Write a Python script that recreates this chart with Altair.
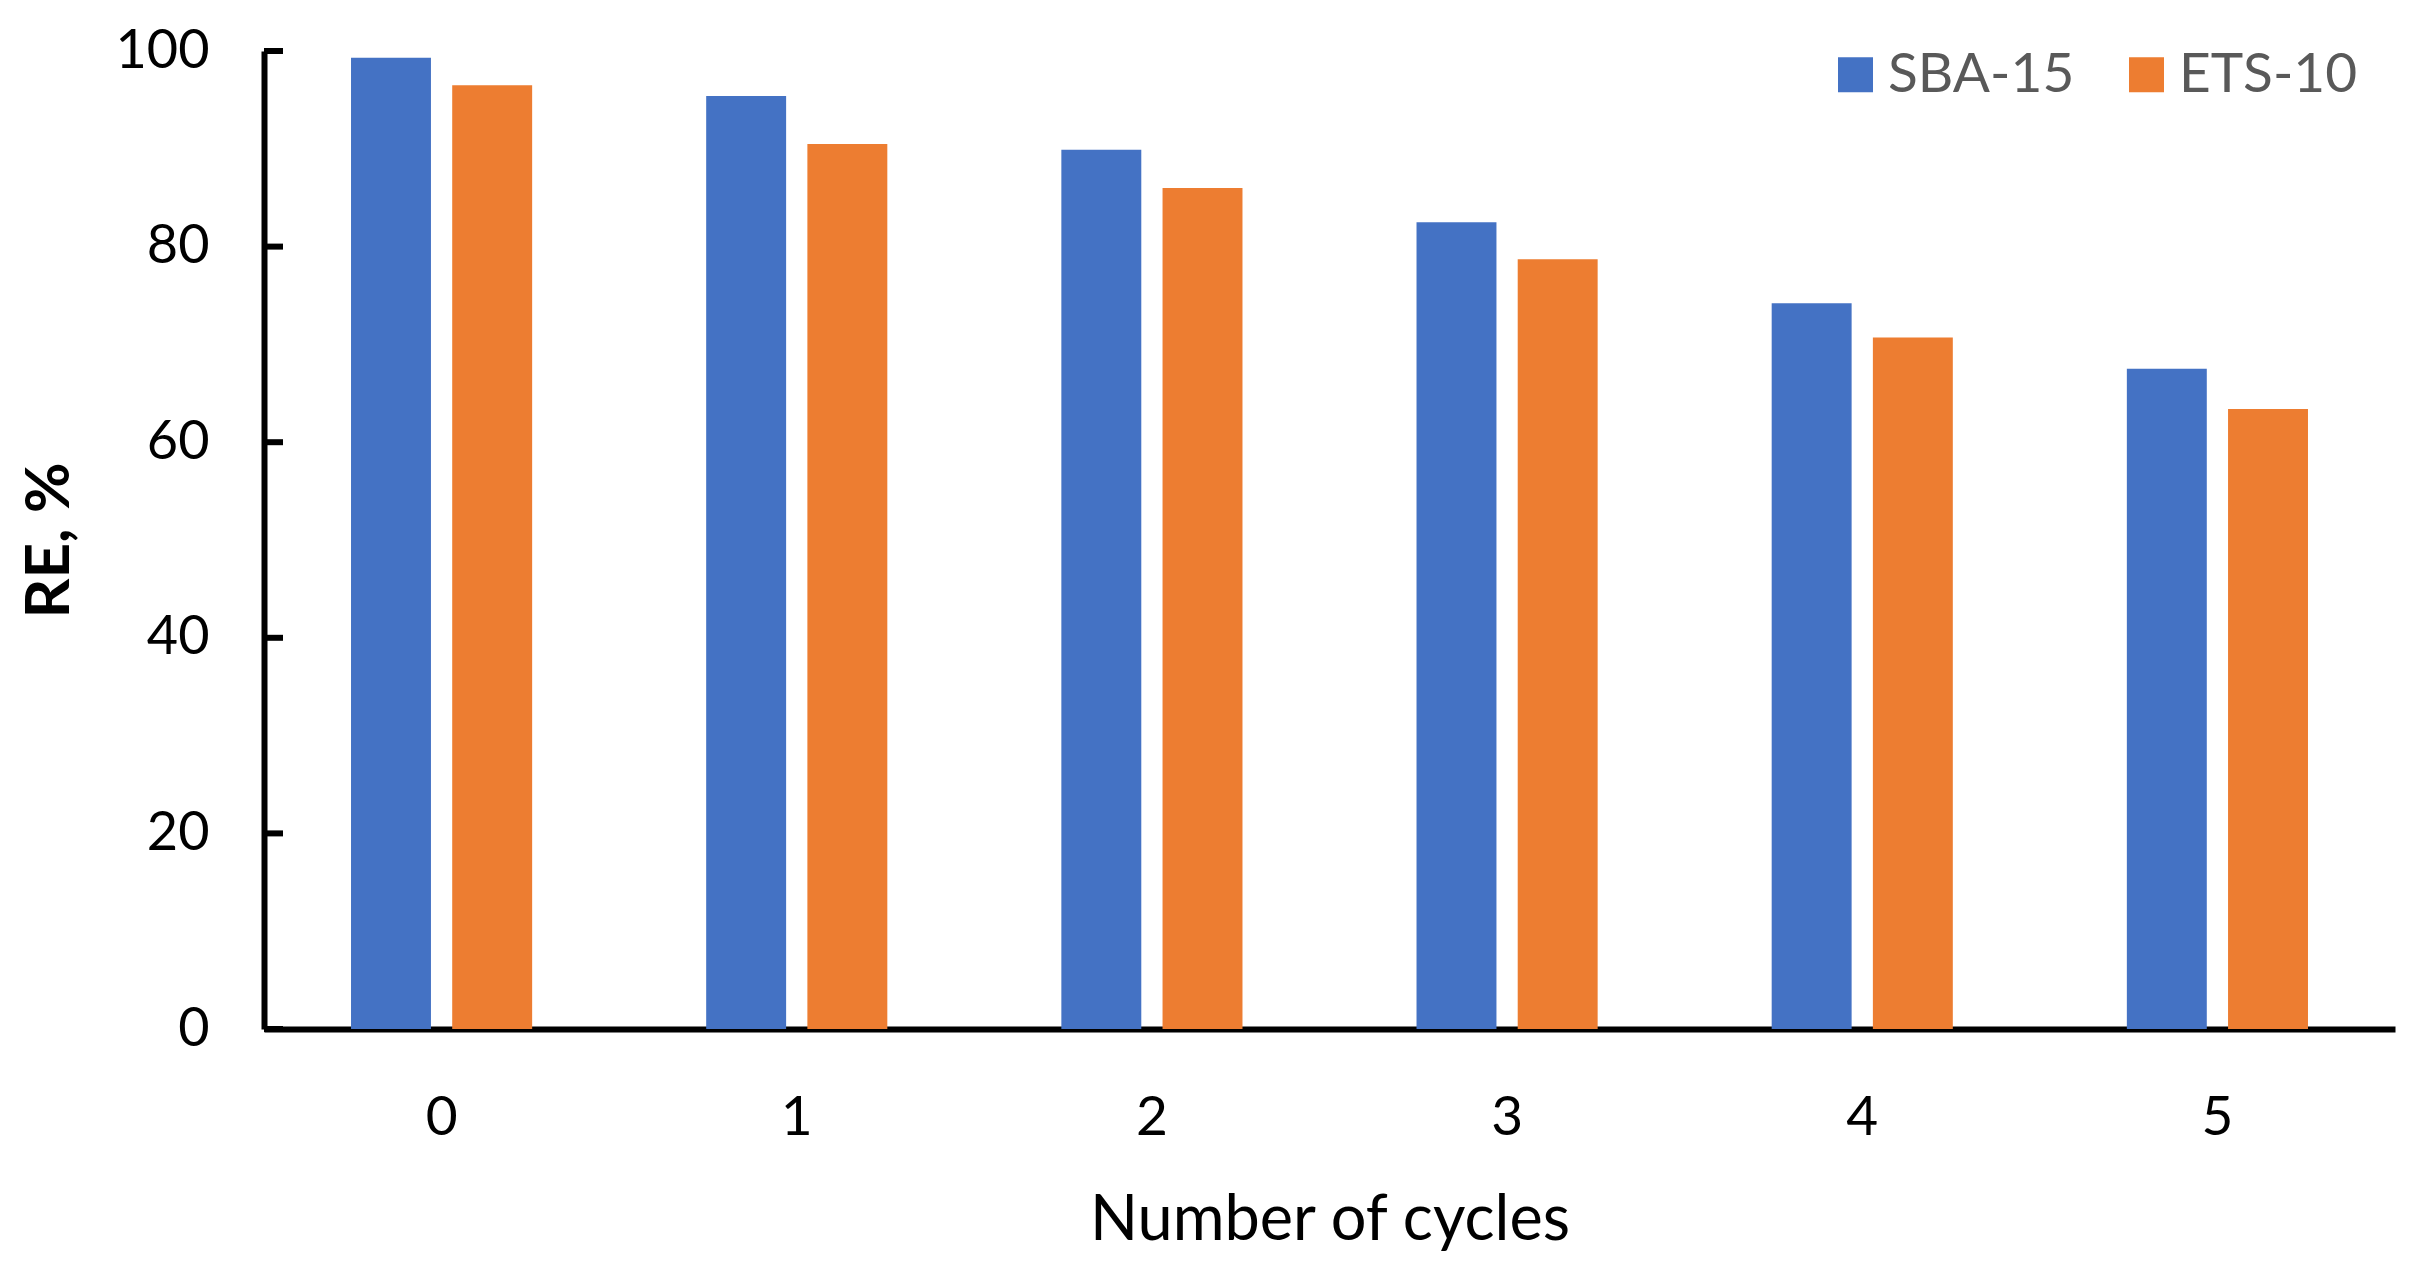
import altair as alt
import pandas as pd

cycles = ["0", "1", "2", "3", "4", "5"]
series = ["SBA-15", "ETS-10"]
sba15 = [99.3, 95.4, 89.9, 82.5, 74.2, 67.5]
ets10 = [96.5, 90.5, 86.0, 78.7, 70.7, 63.4]
y_ticks = [0, 20, 40, 60, 80, 100]
colors = ["#4472C4", "#ED7D31"]

rows = []
for c, a, b in zip(cycles, sba15, ets10):
    rows.append({"cycle": c, "series": "SBA-15", "value": a})
    rows.append({"cycle": c, "series": "ETS-10", "value": b})
df = pd.DataFrame(rows)
ticks_df = pd.DataFrame({"t": y_ticks})

FONT = "Lato"

y_scale = alt.Scale(domain=[0, 100], nice=False)

bars = alt.Chart(df).mark_bar().encode(
    x=alt.X("cycle:N", sort=cycles,
            scale=alt.Scale(paddingInner=0.49, paddingOuter=0.245),
            axis=alt.Axis(title="Number of cycles", labelAngle=0, ticks=False,
                          labelPadding=62, labelFontSize=55, labelColor="black",
                          labelFont=FONT, titleFont=FONT, titleFontSize=63,
                          titleFontWeight="normal", titleColor="black",
                          titlePadding=44, domainColor="black", domainWidth=6)),
    xOffset=alt.XOffset("series:N", sort=series,
                        scale=alt.Scale(paddingInner=0.21, paddingOuter=0)),
    y=alt.Y("value:Q", scale=y_scale,
            axis=alt.Axis(title="RE, %", values=y_ticks, ticks=False, grid=False,
                          labelPadding=55, labelFontSize=54, labelColor="black",
                          labelFont=FONT, titleFont=FONT, titleFontSize=62,
                          titleFontWeight="bold", titleColor="black",
                          titleX=-215, titleY=489, titleAlign="center",
                          titleBaseline="middle", titleAngle=-90,
                          domainColor="black", domainWidth=6)),
    color=alt.Color("series:N", sort=series,
                    scale=alt.Scale(domain=series, range=colors),
                    legend=alt.Legend(title=None, orient="none", direction="horizontal",
                                      legendX=1564, legendY=-4,
                                      symbolType="square", symbolSize=1225,
                                      symbolStrokeWidth=0, symbolOpacity=1,
                                      labelFont=FONT, labelFontSize=55,
                                      labelColor="#595959", labelOffset=5,
                                      labelLimit=0, columnPadding=44)),
)

tick_marks = alt.Chart(ticks_df).mark_rule(color="black", strokeWidth=6).encode(
    y=alt.Y("t:Q", scale=y_scale),
    x=alt.value(0),
    x2=alt.value(19),
)

chart = alt.layer(bars, tick_marks).properties(
    width=2131,
    height=978,
    padding={"left": 256, "top": 43, "right": 22, "bottom": 226},
    autosize=alt.AutoSizeParams(type="none"),
).configure_view(stroke=None)

chart.save("out.html", embed_options={"renderer": "svg", "actions": False})
